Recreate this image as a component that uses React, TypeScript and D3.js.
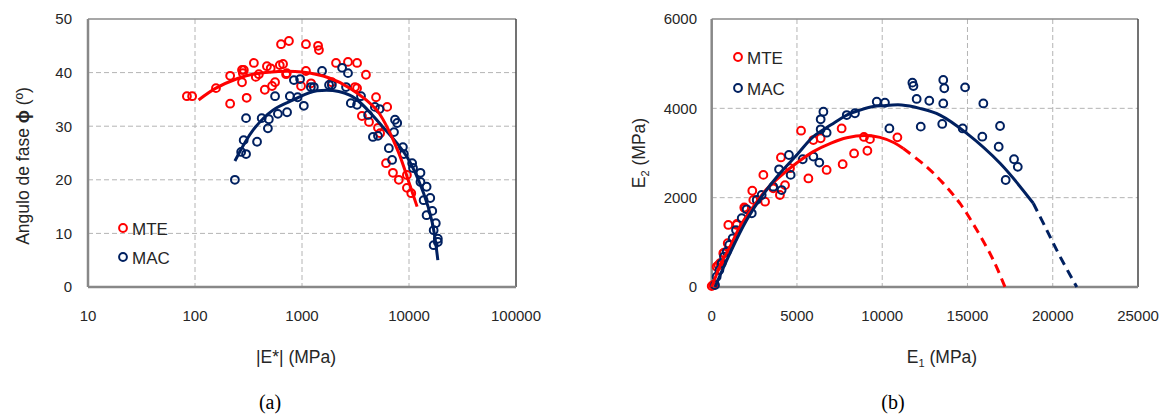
import React from "react";
import * as d3 from "d3";

// (a) phase angle vs |E*|
const mtePhase: [number, number][] = [
  [84, 35.6], [94, 35.6], [157, 37.1], [213, 39.4], [213, 34.2], [275, 40.5], [286, 40.5],
  [275, 38.2], [280, 39.9], [304, 35.3], [355, 41.8], [370, 39.2], [395, 39.7], [449, 36.8],
  [470, 41.2], [510, 40.8], [525, 37.5], [560, 38.2], [637, 45.3], [755, 45.9], [620, 41.4],
  [665, 41.6], [710, 39.7], [720, 39.9], [1089, 45.3], [1413, 45.0], [1440, 44.2], [1089, 40.3],
  [980, 37.5], [1215, 38.0], [2080, 41.8], [2690, 42.0], [3270, 41.8], [3960, 39.6], [1900, 38.2],
  [3130, 37.3], [3270, 37.1], [4920, 35.4], [6250, 33.6], [3630, 31.9], [4230, 30.8], [5130, 29.7],
  [5370, 28.7], [6100, 23.1], [7080, 21.3], [8030, 20.0], [9560, 20.9], [9560, 18.5], [10500, 17.5],
];
const macPhase: [number, number][] = [
  [236, 20.0], [270, 25.2], [300, 24.8], [285, 27.4], [300, 31.5], [380, 27.1], [420, 31.5],
  [490, 31.3], [480, 29.6], [560, 35.6], [595, 32.3], [725, 32.6], [770, 35.6], [840, 38.6],
  [910, 35.4], [960, 38.8], [1040, 33.8], [1210, 37.3], [1290, 37.3], [1540, 40.3], [1790, 37.7],
  [1900, 37.7], [2370, 40.9], [2690, 39.9], [2580, 37.3], [2860, 34.3], [3270, 34.0], [3560, 35.6],
  [4150, 32.1], [4800, 33.6], [5300, 33.2], [4600, 28.0], [5130, 28.2], [7400, 31.2], [7760, 30.6],
  [7240, 28.9], [6480, 25.9], [6950, 23.7], [8770, 26.1], [8960, 24.8], [10700, 23.1], [10900, 22.2],
  [12800, 21.3], [12800, 19.6], [14600, 18.7], [15800, 16.6], [13700, 16.2], [16500, 14.2],
  [14600, 13.4], [17800, 11.9], [17000, 10.6], [18600, 9.0], [17000, 7.8], [18600, 8.4],
];
const mtePhaseFit: [number, number][] = [
  [108, 34.9], [157, 37.1], [250, 38.9], [330, 39.6], [600, 40.2], [1000, 40.1], [1800, 39.0],
  [2800, 37.1], [5000, 33.0], [7800, 25.6], [10000, 19.5], [11900, 15.0],
];
const macPhaseFit: [number, number][] = [
  [236, 23.5], [350, 29.3], [535, 33.0], [830, 34.9], [1380, 36.6], [2790, 35.8], [5670, 29.9],
  [9560, 24.3], [13700, 17.5], [16500, 12.0], [18600, 5.0],
];
const xTicksA = [10, 100, 1000, 10000, 100000];
const yTicksA = [0, 10, 20, 30, 40, 50];

// (b) E2 vs E1
const mteCole: [number, number][] = [
  [0, 20], [95, 45], [290, 455], [390, 490], [490, 535], [680, 755], [720, 770], [940, 980],
  [975, 1390], [1470, 1390], [1480, 1410], [1910, 1780], [1950, 1760], [2380, 2155], [2440, 1950],
  [3030, 2510], [3130, 1910], [3610, 2210], [4000, 2060], [4300, 2280], [4060, 2900], [4590, 2660],
  [5240, 3500], [5670, 2430], [5960, 3290], [6390, 3330], [6740, 2620], [7620, 3550], [7680, 2750],
  [8350, 2990], [8930, 3360], [9280, 3310], [9130, 3050], [10890, 3350],
];
const macCole: [number, number][] = [
  [195, 45], [290, 230], [450, 380], [585, 530], [720, 680], [880, 790], [1030, 940], [1230, 1090],
  [1425, 1275], [1760, 1540], [2050, 1740], [2350, 1650], [2640, 1950], [2930, 2060], [3610, 2245],
  [4100, 2170], [3950, 2635], [4530, 2955], [4630, 2510], [5340, 2860], [5960, 2920], [6310, 2785],
  [6390, 3530], [6390, 3755], [6550, 3925], [6740, 3455], [7920, 3850], [8400, 3890], [9680, 4150],
  [10160, 4125], [10420, 3550], [11770, 4575], [11830, 4500], [12020, 4210], [12260, 3590],
  [12760, 4170], [13580, 4635], [13640, 4450], [13580, 4110], [13520, 3650], [14720, 3550],
  [14860, 4470], [15870, 3365], [15930, 4110], [16830, 3140], [16910, 3605], [17730, 2860],
  [17950, 2690], [17240, 2395],
];
const mteColeFit: [number, number][] = [
  [0, 0], [500, 480], [1070, 900], [1700, 1380], [2440, 1800], [3200, 2180], [4000, 2470],
  [5000, 2780], [5960, 3030], [7000, 3220], [7920, 3340], [9000, 3390], [9870, 3350],
  [10700, 3230], [11240, 3100],
];
const mteColeExtra: [number, number][] = [
  [11240, 3100], [12610, 2690], [13580, 2320], [14560, 1870], [15540, 1280], [16520, 600], [17200, 0],
];
const macColeFit: [number, number][] = [
  [195, 0], [1070, 755], [2050, 1500], [3000, 2060], [4000, 2545], [5000, 2960], [5960, 3365],
  [7000, 3630], [7920, 3850], [8700, 3960], [9480, 4040], [10030, 4060], [11140, 4075],
  [12200, 4000], [13390, 3850], [14960, 3440], [16910, 2770], [18860, 1875],
];
const macColeExtra: [number, number][] = [
  [18860, 1875], [19650, 1275], [20430, 680], [21410, 0],
];
const xTicksB = [0, 5000, 10000, 15000, 20000, 25000];
const yTicksB = [0, 2000, 4000, 6000];

const RED = "#ff0000";
const BLUE = "#002060";
const GRID = "#b4b4b4";
const FONT = "'Liberation Sans', Arial, sans-serif";

const top = 19;
const bottom = 287;

function Frame({ x0, x1 }: { x0: number; x1: number }) {
  return (
    <g>
      <line x1={x0} x2={x1} y1={top} y2={top} stroke="#8a8a8a" strokeWidth={1.5} />
      <line x1={x1} x2={x1} y1={top} y2={bottom} stroke="#444" strokeWidth={1.5} />
      <line x1={x0} x2={x0} y1={top} y2={bottom} stroke="#888" strokeWidth={2.5} />
      <line x1={x0} x2={x1} y1={bottom} y2={bottom} stroke="#888" strokeWidth={2.5} />
    </g>
  );
}

function Points({ data, x, y, color }: { data: [number, number][]; x: any; y: any; color: string }) {
  return (
    <g>
      {data.map((d, i) => (
        <circle key={i} cx={x(d[0])} cy={y(d[1])} r={3.9} fill="none" stroke={color} strokeWidth={2} />
      ))}
    </g>
  );
}

export default function App() {
  const xA = d3.scaleLog().domain([10, 100000]).range([88, 516]);
  const yA = d3.scaleLinear().domain([0, 50]).range([bottom, top]);
  const xB = d3.scaleLinear().domain([0, 25000]).range([711.7, 1138]);
  const yB = d3.scaleLinear().domain([0, 6000]).range([bottom, top]);

  const lineA = d3
    .line<[number, number]>()
    .x((d) => xA(d[0]))
    .y((d) => yA(d[1]))
    .curve(d3.curveCatmullRom);
  const lineB = d3
    .line<[number, number]>()
    .x((d) => xB(d[0]))
    .y((d) => yB(d[1]))
    .curve(d3.curveCatmullRom);

  return (
    <svg
      width={1167}
      height={417}
      style={{ position: "absolute", left: 0, top: 0, background: "#fff" }}
      fontFamily={FONT}
    >
      {/* chart (a) */}
      <g>
        {yTicksA.slice(1, -1).map((t) => (
          <line key={t} x1={88} x2={516} y1={yA(t)} y2={yA(t)} stroke={GRID} strokeDasharray="5,3" />
        ))}
        {xTicksA.slice(1, -1).map((t) => (
          <line key={t} x1={xA(t)} x2={xA(t)} y1={top} y2={bottom} stroke={GRID} strokeDasharray="5,3" />
        ))}
        <Frame x0={88} x1={516} />
        {yTicksA.map((t) => (
          <text key={t} x={72} y={yA(t)} dy="0.36em" textAnchor="end" fontSize={15} fill="#262626">
            {t}
          </text>
        ))}
        {xTicksA.map((t) => (
          <text key={t} x={xA(t)} y={321} textAnchor="middle" fontSize={15} fill="#262626">
            {t}
          </text>
        ))}
        <Points data={mtePhase} x={xA} y={yA} color={RED} />
        <Points data={macPhase} x={xA} y={yA} color={BLUE} />
        <path d={lineA(macPhaseFit) || ""} fill="none" stroke={BLUE} strokeWidth={3} />
        <path d={lineA(mtePhaseFit) || ""} fill="none" stroke={RED} strokeWidth={3} />

        <circle cx={123} cy={228} r={3.9} fill="none" stroke={RED} strokeWidth={2} />
        <text x={132} y={234.5} fontSize={17} fill="#262626">MTE</text>
        <circle cx={123} cy={257} r={3.9} fill="none" stroke={BLUE} strokeWidth={2} />
        <text x={132} y={263.5} fontSize={17} fill="#262626">MAC</text>

        <text transform="translate(29,166) rotate(-90)" textAnchor="middle" fontSize={17.5} fill="#262626">
          Angulo de fase <tspan fontWeight="bold">ϕ</tspan> (º)
        </text>
        <text x={296} y={363} textAnchor="middle" fontSize={17.5} fill="#262626">
          |E*| (MPa)
        </text>
        <text x={270} y={409} textAnchor="middle" fontSize={20} fontFamily="'Liberation Serif', 'Times New Roman', serif" fill="#000">
          (a)
        </text>
      </g>

      {/* chart (b) */}
      <g>
        {yTicksB.slice(1, -1).map((t) => (
          <line key={t} x1={711.7} x2={1138} y1={yB(t)} y2={yB(t)} stroke={GRID} strokeDasharray="5,3" />
        ))}
        {xTicksB.slice(1, -1).map((t) => (
          <line key={t} x1={xB(t)} x2={xB(t)} y1={top} y2={bottom} stroke={GRID} strokeDasharray="5,3" />
        ))}
        <Frame x0={711.7} x1={1138} />
        {yTicksB.map((t) => (
          <text key={t} x={697} y={yB(t)} dy="0.36em" textAnchor="end" fontSize={15} fill="#262626">
            {t}
          </text>
        ))}
        {xTicksB.map((t) => (
          <text key={t} x={xB(t)} y={321} textAnchor="middle" fontSize={15} fill="#262626">
            {t}
          </text>
        ))}
        <Points data={mteCole} x={xB} y={yB} color={RED} />
        <Points data={macCole} x={xB} y={yB} color={BLUE} />
        <path d={lineB(mteColeFit) || ""} fill="none" stroke={RED} strokeWidth={3} />
        <path d={lineB(mteColeExtra) || ""} fill="none" stroke={RED} strokeWidth={3} strokeDasharray="9,6" />
        <path d={lineB(macColeFit) || ""} fill="none" stroke={BLUE} strokeWidth={3} />
        <path d={lineB(macColeExtra) || ""} fill="none" stroke={BLUE} strokeWidth={3} strokeDasharray="9,6" />

        <circle cx={738} cy={57} r={3.9} fill="none" stroke={RED} strokeWidth={2} />
        <text x={747} y={63.5} fontSize={17} fill="#262626">MTE</text>
        <circle cx={738} cy={88} r={3.9} fill="none" stroke={BLUE} strokeWidth={2} />
        <text x={747} y={94.5} fontSize={17} fill="#262626">MAC</text>

        <text transform="translate(645,153) rotate(-90)" textAnchor="middle" fontSize={17.5} fill="#262626">
          E<tspan fontSize={11} dy={4}>2</tspan>
          <tspan dy={-4}> (MPa)</tspan>
        </text>
        <text x={942} y={363} textAnchor="middle" fontSize={17.5} fill="#262626">
          E<tspan fontSize={11} dy={4}>1</tspan>
          <tspan dy={-4}> (MPa)</tspan>
        </text>
        <text x={893} y={409} textAnchor="middle" fontSize={20} fontFamily="'Liberation Serif', 'Times New Roman', serif" fill="#000">
          (b)
        </text>
      </g>
    </svg>
  );
}
